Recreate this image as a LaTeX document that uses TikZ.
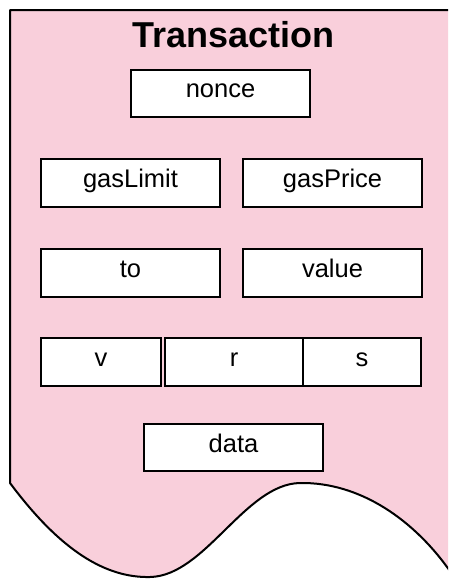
\documentclass[tikz,border=0pt]{standalone}
\usepackage{fontspec}
\setmainfont{Liberation Sans}
\definecolor{txpink}{RGB}{249,207,219}
\begin{document}
\begin{tikzpicture}[x=1pt,y=-1pt,
  field/.style={draw=black,fill=white,line width=2pt,inner sep=0pt,
    minimum width=179pt,minimum height=47pt,
    text height=17pt,text depth=8pt,
    font=\fontsize{25.5}{28}\selectfont},
  outline/.style={draw=black,line width=2pt,line join=round},
]
\useasboundingbox (0,0) rectangle (448,581);
\clip (0,0) rectangle (448,581);
% document shape
\fill[txpink] (460,10) -- (10,10) -- (10,483)
  .. controls (60,550) and (105,578) .. (150,577)
  .. controls (205,576) and (245,484) .. (300,483)
  .. controls (360,482) and (415,520) .. (452,574) -- (460,574) -- cycle;
\draw[outline] (460,10) -- (10,10) -- (10,483)
  .. controls (60,550) and (105,578) .. (150,577)
  .. controls (205,576) and (245,484) .. (300,483)
  .. controls (360,482) and (415,520) .. (452,574);
% title
\node[anchor=base,font=\fontsize{36}{40}\selectfont\bfseries,inner sep=0pt] (title) at (233.5,47) {Transaction};
% fields
\node[field] (nonce) at (220.5,93) {nonce};
\node[field,minimum height=48pt] (gaslimit) at (130.5,183) {gasLimit};
\node[field,minimum height=48pt] (gasprice) at (332.5,183) {gasPrice};
\node[field,minimum height=48pt] (to) at (130.5,272.5) {to};
\node[field,minimum height=48pt] (value) at (332.5,272.5) {value};
\node[field,minimum height=48pt,minimum width=120pt] (v) at (101,362) {v};
\node[field,minimum height=48pt,minimum width=138pt] (r) at (234,362) {r};
\node[field,minimum height=48pt,minimum width=118pt] (s) at (362,362) {s};
\node[field] (data) at (233.5,447.5) {data};
\end{tikzpicture}
\end{document}
